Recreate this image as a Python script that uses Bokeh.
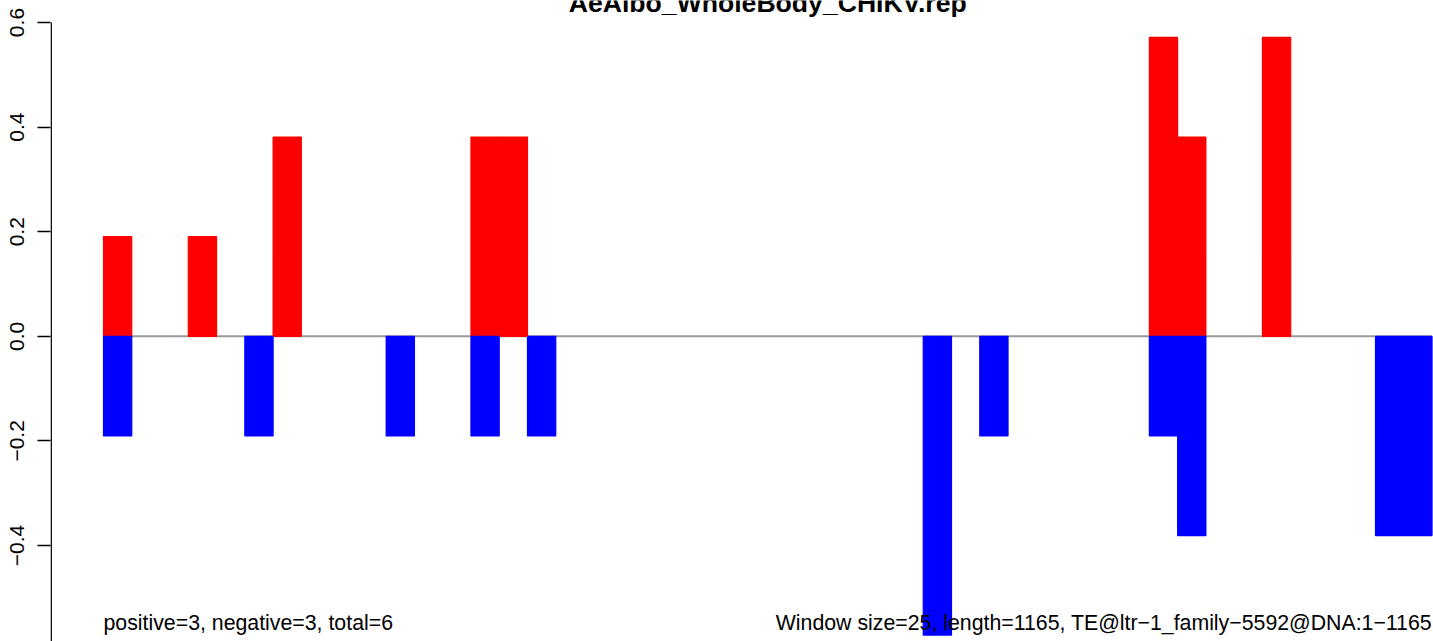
from bokeh.plotting import figure
from bokeh.models import Range1d, FixedTicker, CustomJSTickFormatter
from bokeh.core.properties import value
from bokeh.embed import file_html
from bokeh.resources import INLINE

title_text = "AeAlbo_WholeBody_CHIKV.rep"
left_note = "positive=3, negative=3, total=6"
right_note = "Window size=25, length=1165, TE@ltr\u22121_family\u22125592@DNA:1\u22121165"

window = 25
seq_len = 1175  # 47 windows of 25

pos_starts = [0, 75, 150, 325, 350, 925, 950, 1025]
pos_vals = [0.1905, 0.1905, 0.381, 0.381, 0.381, 0.5714, 0.381, 0.5714]

neg_starts = [0, 125, 250, 325, 375, 725, 775, 925, 950, 1125, 1150]
neg_vals = [-0.1905, -0.1905, -0.1905, -0.1905, -0.1905, -0.5714, -0.1905,
            -0.1905, -0.381, -0.381, -0.381]

y_ticks = [-0.6, -0.4, -0.2, 0.0, 0.2, 0.4, 0.6]

FONT = "Liberation Sans"

X0, X1 = -46.87, 1176.3
p = figure(width=1433, height=641, output_backend="svg", toolbar_location=None,
           x_range=Range1d(X0, X1), y_range=Range1d(-0.5836, 0.6421),
           x_axis_location=None, min_border_left=50, min_border_right=0,
           min_border_top=0, min_border_bottom=0)
p.outline_line_color = None
p.xgrid.visible = False
p.ygrid.visible = False
p.background_fill_color = "white"
p.border_fill_color = "white"

yax = p.yaxis[0]
yax.ticker = FixedTicker(ticks=y_ticks)
yax.formatter = CustomJSTickFormatter(code="return (tick < -1e-9 ? '\u2212' : '') + Math.abs(tick).toFixed(1);")
yax.major_label_orientation = "vertical"
yax.major_label_text_font = FONT
yax.major_label_text_font_size = "21px"
yax.major_label_text_color = "black"
yax.major_tick_out = 13
yax.major_tick_in = 0
yax.minor_tick_out = 0
yax.minor_tick_in = 0
yax.major_label_standoff = 13
yax.axis_line_color = None
yax.major_tick_line_width = 1.5

# axis line spanning only the tick range
p.segment(x0=[X0 + 0.6], y0=[y_ticks[0]], x1=[X0 + 0.6], y1=[y_ticks[-1]],
          line_color="black", line_width=1.5)

# zero line
p.segment(x0=[0], y0=[0], x1=[seq_len], y1=[0], line_color="#9a9a9a", line_width=2)

p.quad(left=pos_starts, right=[s + window for s in pos_starts],
       bottom=[0] * len(pos_vals), top=pos_vals,
       fill_color="#ff0000", line_color="#ff0000", line_width=1.2)
p.quad(left=neg_starts, right=[s + window for s in neg_starts],
       bottom=neg_vals, top=[0] * len(neg_vals),
       fill_color="#0000ff", line_color="#0000ff", line_width=1.2)

p.text(x=[0], y=[-0.5475], text=[left_note], text_font=value(FONT),
       text_font_size="21.3px", text_align="left", text_baseline="alphabetic",
       text_color="black")
p.text(x=[seq_len], y=[-0.5475], text=[right_note], text_font=value(FONT),
       text_font_size="21.3px", text_align="right", text_baseline="alphabetic",
       text_color="black")

p.text(x=[seq_len / 2], y=[0.6382], text=[title_text], text_font=value(FONT),
       text_font_size="26.6px", text_font_style="bold",
       text_align="center", text_baseline="alphabetic", text_color="black")

open("out.html", "w").write(file_html(p, INLINE))
